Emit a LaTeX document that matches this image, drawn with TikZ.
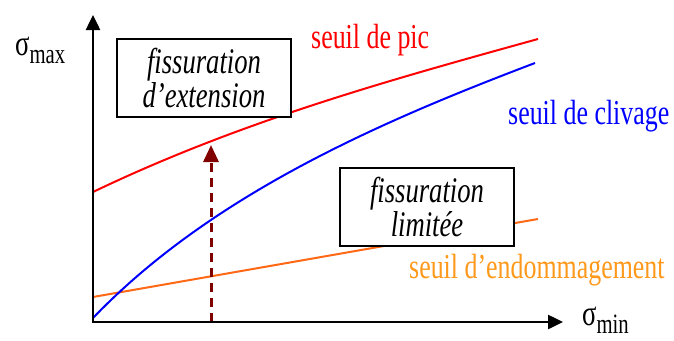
\documentclass[tikz,border=0pt]{standalone}
\usepackage{fontspec}
\setmainfont{Liberation Serif}[FakeStretch=0.74]
\usepackage{xcolor}
\usetikzlibrary{arrows.meta}
\definecolor{orangeline}{RGB}{255,104,20}
\definecolor{orangetxt}{RGB}{255,153,28}
\definecolor{brique}{RGB}{128,0,0}
\newcommand{\contrainte}[1]{{\fontsize{36}{36}\selectfont σ}\raisebox{-8pt}{\fontsize{28}{28}\selectfont #1}}
\tikzset{
	seuil/.style={anchor=base west, inner sep=0pt, font=\fontsize{35}{35}\selectfont},
	zone/.style={draw, line width=2pt, fill=white, minimum width=174pt, minimum height=78pt, inner sep=0pt, align=center, font=\fontsize{36}{29}\selectfont\itshape},
	axe/.style={line width=2.5pt, {Triangle[length=15pt,width=14pt]}-{Triangle[length=15pt,width=14pt]}},
	courbe/.style={line width=2pt}
}

\begin{document}
\begin{tikzpicture}[x=1pt,y=-1pt]
			\useasboundingbox (0,0) rectangle (674,340);
			\coordinate (O) at (93,322);
			\coordinate (ytip) at (93,15);
			\coordinate (xtip) at (563,322);
			\draw[courbe, orangeline] (93,297) -- (538,219);
			\draw[courbe, blue] (93,318) .. controls (213,193) and (385,120) .. (535,63);
			\draw[courbe, red] (93,192) .. controls (241,121) and (390,80) .. (538,39);
			\node[zone] (ext) at (204,78) {fissuration\\d'extension};
			\node[zone] (lim) at (427,207) {fissuration\\limitée};
			\coordinate (pied) at (211,322);
			\coordinate (pointe) at (211,145);
			\draw[brique, line width=3pt, dash pattern=on 9pt off 6pt, -{Triangle[length=17pt,width=15pt]}] (pied) -- (pointe);
			\draw[axe] (ytip) -- (O) -- (xtip);
			\node[seuil, red] (pic) at (311,48) {seuil de pic};
			\node[seuil, blue] (clivage) at (508,124) {seuil de clivage};
			\node[seuil, orangetxt] (endo) at (409,278) {seuil d'endommagement};
			\node[anchor=base west, inner sep=0pt] (smax) at (15,55) {\contrainte{max}};
			\node[anchor=base west, inner sep=0pt] (smin) at (582,325) {\contrainte{min}};
		\end{tikzpicture}
\end{document}
